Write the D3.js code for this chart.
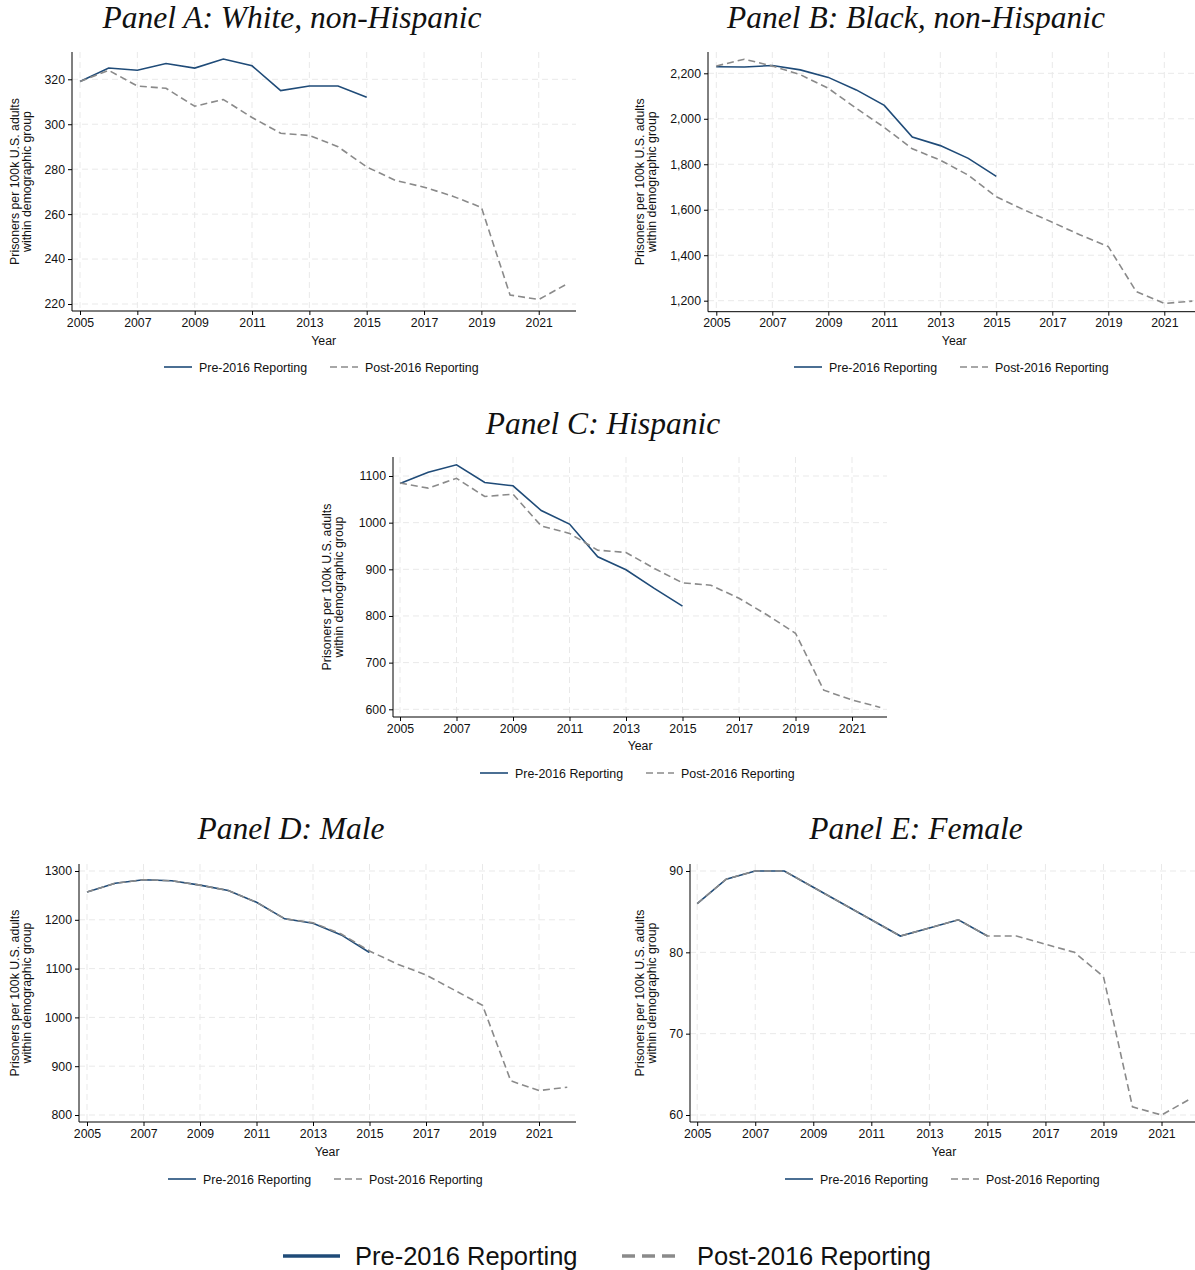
<!DOCTYPE html>
<html>
<head>
<meta charset="utf-8">
<script src="https://cdn.jsdelivr.net/npm/d3@7"></script>
<style>
  body { margin: 0; background: #fff; }
  svg text { font-family: "Liberation Sans", Arial, sans-serif; fill: #111; }
  .title { font-family: "Liberation Serif", "Times New Roman", serif; font-style: italic; font-size: 31.5px; }
  .axis path, .axis line { stroke: #000; }
  .axis text { font-size: 12.3px; }
</style>
</head>
<body>
<div id="chart"></div>
<script>
// years
var preYears = d3.range(2005, 2016);
var postYears = d3.range(2005, 2023);
var xTicks = [2005, 2007, 2009, 2011, 2013, 2015, 2017, 2019, 2021];

// Panel A: White, non-Hispanic
var whitePre = [319, 325, 324, 327, 325, 329, 326, 315, 317, 317, 312];
var whitePost = [319, 324, 317, 316, 308, 311, 303, 296, 295, 290, 281, 275, 272, 268, 263, 224, 222, 229];
var whiteTicks = [220, 240, 260, 280, 300, 320];

// Panel B: Black, non-Hispanic
var blackPre = [2229, 2228, 2234, 2215, 2182, 2127, 2059, 1920, 1882, 1826, 1747];
var blackPost = [2232, 2262, 2232, 2194, 2134, 2046, 1962, 1868, 1818, 1752, 1657, 1599, 1545, 1489, 1438, 1240, 1188, 1198];
var blackTicks = [1200, 1400, 1600, 1800, 2000, 2200];

// Panel C: Hispanic
var hispPre = [1084, 1108, 1124, 1086, 1079, 1026, 997, 927, 899, 859, 821];
var hispPost = [1085, 1074, 1095, 1056, 1061, 993, 977, 941, 936, 902, 871, 866, 838, 802, 763, 641, 620, 604];
var hispTicks = [600, 700, 800, 900, 1000, 1100];

// Panel D: Male
var malePre = [1257, 1275, 1282, 1280, 1271, 1260, 1236, 1202, 1193, 1169, 1133];
var malePost = [1257, 1275, 1282, 1280, 1271, 1260, 1236, 1202, 1194, 1171, 1136, 1109, 1087, 1056, 1025, 870, 850, 857];
var maleTicks = [800, 900, 1000, 1100, 1200, 1300];

// Panel E: Female
var femalePre = [86, 89, 90, 90, 88, 86, 84, 82, 83, 84, 82];
var femalePost = [86, 89, 90, 90, 88, 86, 84, 82, 83, 84, 82, 82, 81, 80, 77, 61, 60, 62];
var femaleTicks = [60, 70, 80, 90];

var seriesNames = ['Pre-2016 Reporting', 'Post-2016 Reporting'];
var blue = '#1f4b78', grey = '#8a8a8a';

var svg = d3.select('#chart').append('svg')
    .attr('width', 1195)
    .attr('height', 1270);

var panels = [
    { title: 'Panel A: White, non-Hispanic', pre: whitePre, post: whitePost, ticks: whiteTicks, fmt: d3.format('d'),
      axisX: 72, right: 576, top: 52, bottom: 311, x0: 80, yr: 28.67, v0: 220, y0: 304, v1: 320, y1: 79.3,
      titleX: 292, titleY: 28, labX: 15, yearY: 345, legY: 367, legX: 164 },
    { title: 'Panel B: Black, non-Hispanic', pre: blackPre, post: blackPost, ticks: blackTicks, fmt: d3.format(','),
      axisX: 708, right: 1200, top: 52, bottom: 311.7, x0: 716.3, yr: 28, v0: 1200, y0: 300.7, v1: 2200, y1: 73.3,
      titleX: 916, titleY: 28, labX: 640, yearY: 345, legY: 367, legX: 794 },
    { title: 'Panel C: Hispanic', pre: hispPre, post: hispPost, ticks: hispTicks, fmt: d3.format('d'),
      axisX: 393, right: 887, top: 457, bottom: 717, x0: 400, yr: 28.25, v0: 600, y0: 709.3, v1: 1100, y1: 476,
      titleX: 603, titleY: 434, labX: 327, yearY: 750, legY: 773, legX: 480 },
    { title: 'Panel D: Male', pre: malePre, post: malePost, ticks: maleTicks, fmt: d3.format('d'),
      axisX: 79, right: 576, top: 864, bottom: 1122, x0: 87, yr: 28.25, v0: 800, y0: 1115, v1: 1300, y1: 871,
      titleX: 291, titleY: 839, labX: 15, yearY: 1156, legY: 1179, legX: 168 },
    { title: 'Panel E: Female', pre: femalePre, post: femalePost, ticks: femaleTicks, fmt: d3.format('d'),
      axisX: 690, right: 1200, top: 864, bottom: 1122, x0: 697.2, yr: 29.02, v0: 60, y0: 1115, v1: 90, y1: 871,
      titleX: 916, titleY: 839, labX: 640, yearY: 1156, legY: 1179, legX: 785 }
];

panels.forEach(function(p) {
    var g = svg.append('g');

    var xScale = d3.scaleLinear()
        .domain([2005, 2021])
        .range([p.x0, p.x0 + 16 * p.yr]);
    var yScale = d3.scaleLinear()
        .domain([p.v0, p.v1])
        .range([p.y0, p.y1]);

    // grid
    g.selectAll('.hgrid')
        .data(p.ticks)
        .enter().append('line')
        .attr('x1', p.axisX).attr('x2', p.right)
        .attr('y1', function(d) { return yScale(d); })
        .attr('y2', function(d) { return yScale(d); })
        .attr('stroke', '#e9e9e9').attr('stroke-width', 1)
        .attr('stroke-dasharray', '6,4');
    g.selectAll('.vgrid')
        .data(xTicks)
        .enter().append('line')
        .attr('x1', function(d) { return xScale(d); })
        .attr('x2', function(d) { return xScale(d); })
        .attr('y1', p.top).attr('y2', p.bottom)
        .attr('stroke', '#e9e9e9').attr('stroke-width', 1)
        .attr('stroke-dasharray', '6,4');

    var line = d3.line()
        .x(function(d) { return xScale(d[0]); })
        .y(function(d) { return yScale(d[1]); });

    g.append('path')
        .datum(preYears.map(function(y, i) { return [y, p.pre[i]]; }))
        .attr('d', line)
        .attr('fill', 'none')
        .attr('stroke', blue)
        .attr('stroke-width', 1.6);

    g.append('path')
        .datum(postYears.map(function(y, i) { return [y, p.post[i]]; }))
        .attr('d', line)
        .attr('fill', 'none')
        .attr('stroke', grey)
        .attr('stroke-width', 1.6)
        .attr('stroke-dasharray', '7,4');

    // axes
    var xAxis = d3.axisBottom(xScale).tickValues(xTicks).tickFormat(d3.format('d')).tickSize(4).tickSizeOuter(0);
    var xg = g.append('g')
        .attr('class', 'axis')
        .attr('transform', 'translate(0,' + p.bottom + ')')
        .call(xAxis);
    xg.select('.domain').attr('d', 'M' + p.axisX + ',0H' + p.right);

    var yAxis = d3.axisLeft(yScale).tickValues(p.ticks).tickFormat(p.fmt).tickSize(4).tickSizeOuter(0);
    var yg = g.append('g')
        .attr('class', 'axis')
        .attr('transform', 'translate(' + p.axisX + ',0)')
        .call(yAxis);
    yg.select('.domain').attr('d', 'M0,' + p.top + 'V' + p.bottom);

    // titles
    g.append('text')
        .attr('class', 'title')
        .attr('x', p.titleX).attr('y', p.titleY)
        .attr('text-anchor', 'middle')
        .text(p.title);

    g.append('text')
        .attr('x', xScale(2013.5))
        .attr('y', p.yearY)
        .attr('text-anchor', 'middle')
        .style('font-size', '12.3px')
        .text('Year');

    var midY = (p.top + p.bottom) / 2;
    var ylab = g.append('text')
        .attr('transform', 'translate(' + p.labX + ',' + midY + ') rotate(-90)')
        .attr('text-anchor', 'middle')
        .style('font-size', '12.3px');
    ylab.append('tspan').attr('x', 0).attr('dy', 4).text('Prisoners per 100k U.S. adults');
    ylab.append('tspan').attr('x', 0).attr('dy', 11.5).text('within demographic group');

    // legend
    var leg = g.append('g').attr('transform', 'translate(' + p.legX + ',' + p.legY + ')');
    leg.append('line').attr('x1', 0).attr('x2', 28).attr('y1', 0).attr('y2', 0)
        .attr('stroke', blue).attr('stroke-width', 1.6);
    leg.append('text').attr('x', 35).attr('y', 4.5).style('font-size', '12.4px').text(seriesNames[0]);
    leg.append('line').attr('x1', 166).attr('x2', 194).attr('y1', 0).attr('y2', 0)
        .attr('stroke', grey).attr('stroke-width', 1.6).attr('stroke-dasharray', '7,4');
    leg.append('text').attr('x', 201).attr('y', 4.5).style('font-size', '12.4px').text(seriesNames[1]);
});

// overall legend
var bigLeg = svg.append('g').attr('transform', 'translate(283,1256)');
bigLeg.append('line').attr('x1', 0).attr('x2', 57).attr('y1', 0).attr('y2', 0)
    .attr('stroke', blue).attr('stroke-width', 3.5);
bigLeg.append('text').attr('x', 72).attr('y', 9).style('font-size', '25.5px').text(seriesNames[0]);
bigLeg.append('line').attr('x1', 339).attr('x2', 399).attr('y1', 0).attr('y2', 0)
    .attr('stroke', grey).attr('stroke-width', 3.5).attr('stroke-dasharray', '13,7');
bigLeg.append('text').attr('x', 414).attr('y', 9).style('font-size', '25.5px').text(seriesNames[1]);
</script>
</body>
</html>
